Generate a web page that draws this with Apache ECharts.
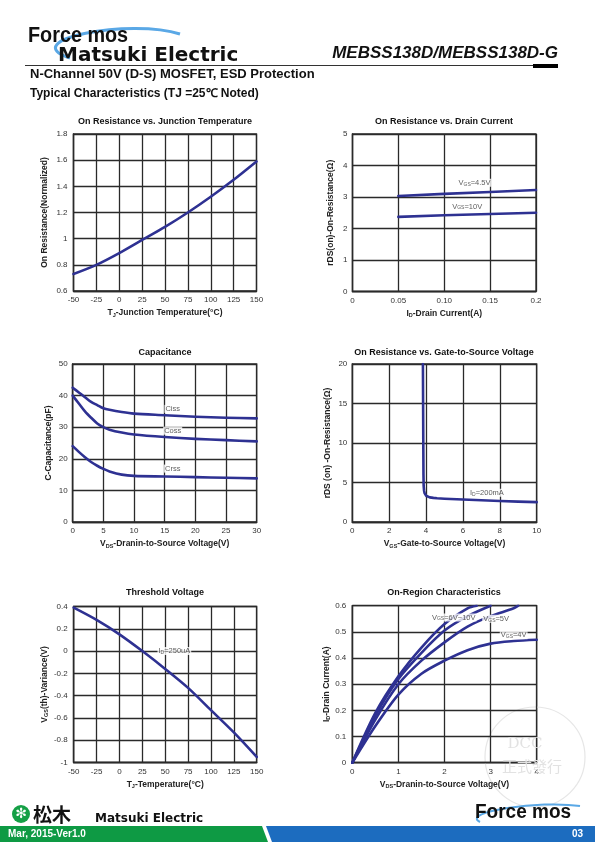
<!DOCTYPE html>
<html><head><meta charset="utf-8">
<script src="https://cdn.jsdelivr.net/npm/echarts@6/dist/echarts.min.js"></script>
<style>html,body{margin:0;padding:0;background:#fff}#c{width:595px;height:842px}</style>
</head><body><div id="c"></div>
<script>
// ---------- data ----------
// Chart 1: On Resistance vs Junction Temperature
const tjTemps = [-50, -25, 0, 25, 50, 75, 100, 125, 150];
const rOnNorm = [0.73, 0.80, 0.89, 0.99, 1.09, 1.20, 1.32, 1.45, 1.59];
// Chart 2: On Resistance vs Drain Current
const idCurrents = [0.05, 0.10, 0.15, 0.20];
const rds45 = [3.03, 3.10, 3.16, 3.22];
const rds10 = [2.37, 2.42, 2.46, 2.50];
const xTicks2 = ['0', '0.05', '0.10', '0.15', '0.2'];
// Chart 3: Capacitance
const vdsCap = [0, 1, 2, 3, 4, 5, 6, 8, 10, 15, 20, 25, 30];
const ciss = [42.5, 41, 39.5, 38, 37, 36, 35.5, 34.8, 34.3, 33.8, 33.3, 33, 32.8];
const coss = [40, 37.5, 35, 33, 31.2, 30, 29.2, 28.3, 27.7, 26.9, 26.3, 25.9, 25.5];
const crss = [24, 22.2, 20.5, 19, 17.8, 16.8, 16, 15, 14.6, 14.4, 14.2, 14, 13.8];
// Chart 4: On Resistance vs Gate-to-Source Voltage
const vgsR = [3.83, 3.84, 3.85, 3.86, 3.87, 3.89, 3.92, 3.96, 4.0, 4.1, 4.2, 4.4, 4.6, 5, 6, 7, 8, 9, 10];
const rdsVgs = [20, 15, 10, 6, 4.6, 4.0, 3.65, 3.45, 3.33, 3.2, 3.12, 3.05, 3.0, 2.95, 2.85, 2.75, 2.65, 2.58, 2.52];
// Chart 5: Threshold Voltage
const thTemps = [-50, -25, 0, 25, 50, 75, 100, 125, 150];
const vthVar = [0.39, 0.28, 0.15, 0.0, -0.16, -0.33, -0.53, -0.73, -0.95];
const yTicks5 = ['-1', '-0.8', '-0.6', '-0.4', '-0.2', '0', '0.2', '0.4'];
// Chart 6: On-Region Characteristics
const vdsOn10 = [0, 0.5, 1, 1.5, 2, 2.5, 2.7];
const id10 = [0, 0.19, 0.33, 0.44, 0.53, 0.59, 0.60];
const vdsOn6 = [0, 0.5, 1, 1.5, 2, 2.5, 3.0];
const id6 = [0, 0.18, 0.32, 0.42, 0.505, 0.56, 0.60];
const vdsOn5 = [0, 0.5, 1, 1.5, 2, 2.5, 3, 3.5, 3.6];
const id5 = [0, 0.165, 0.30, 0.39, 0.46, 0.52, 0.56, 0.59, 0.60];
const vdsOn4 = [0, 0.5, 1, 1.5, 2, 2.5, 3, 3.5, 4];
const id4 = [0, 0.14, 0.26, 0.34, 0.39, 0.43, 0.455, 0.465, 0.47];

// ---------- styles ----------
const FONT = 'Liberation Sans, Arial, sans-serif';
const NAVY = '#2e3192';
const GRIDC = '#2a2a2a';
const pair = (xs, ys) => xs.map((x, i) => [x, ys[i]]);
const subRich = {
  a: { fontFamily: FONT, fontSize: 8.5, fontWeight: 'bold', color: '#222' },
  s: { fontFamily: FONT, fontSize: 5.5, fontWeight: 'bold', color: '#222', padding: [4, 0, 0, 0] }
};
const labRich = {
  a: { fontFamily: FONT, fontSize: 7.5, color: '#333' },
  s: { fontFamily: FONT, fontSize: 5, color: '#333', padding: [3, 0, 0, 0] }
};

const grids = [
  { left: 73.5, top: 134, width: 183, height: 157 },
  { left: 352.5, top: 134, width: 183.5, height: 157.5 },
  { left: 72.7, top: 364, width: 184, height: 158 },
  { left: 352.3, top: 364, width: 184.4, height: 158 },
  { left: 73.7, top: 606.5, width: 183, height: 156 },
  { left: 352.3, top: 605.7, width: 184.4, height: 157 }
].map(g => Object.assign({ show: true, borderColor: GRIDC, borderWidth: 1.3, containLabel: false }, g));

function axis(idx, o) {
  return Object.assign({
    type: 'value', gridIndex: idx,
    axisLine: { show: true, onZero: false, lineStyle: { color: GRIDC, width: 1.3 } },
    axisTick: { show: false },
    splitLine: { show: true, lineStyle: { color: GRIDC, width: 1.3 } },
    axisLabel: { fontFamily: FONT, fontSize: 8, color: '#333', margin: 5 },
    nameLocation: 'middle',
    nameTextStyle: { fontFamily: FONT, fontSize: 8.5, fontWeight: 'bold', color: '#222', rich: subRich }
  }, o);
}

const xAxes = [
  axis(0, { min: -50, max: 150, interval: 25, name: 'T{s|J}-Junction Temperature(°C)', nameGap: 17 }),
  axis(1, { min: 0, max: 0.2, interval: 0.05, name: 'I{s|D}-Drain Current(A)', nameGap: 17,
    axisLabel: { fontFamily: FONT, fontSize: 8, color: '#333', margin: 5, formatter: v => xTicks2[Math.round(v / 0.05)] } }),
  axis(2, { min: 0, max: 30, interval: 5, name: 'V{s|DS}-Dranin-to-Source Voltage(V)', nameGap: 17 }),
  axis(3, { min: 0, max: 10, interval: 2, name: 'V{s|GS}-Gate-to-Source Voltage(V)', nameGap: 17 }),
  axis(4, { min: -50, max: 150, interval: 25, name: 'T{s|J}-Temperature(°C)', nameGap: 17 }),
  axis(5, { min: 0, max: 4, interval: 1, name: 'V{s|DS}-Dranin-to-Source Voltage(V)', nameGap: 17 })
];
const yAxes = [
  axis(0, { min: 0.6, max: 1.8, interval: 0.2, name: 'On Resistance(Normalized)', nameGap: 24,
    axisLabel: { fontFamily: FONT, fontSize: 8, color: '#333', margin: 6, formatter: v => String(+v.toFixed(1)) } }),
  axis(1, { min: 0, max: 5, interval: 1, name: 'rDS(on)-On-Resistance(Ω)', nameGap: 17 }),
  axis(2, { min: 0, max: 50, interval: 10, name: 'C-Capacitance(pF)', nameGap: 20 }),
  axis(3, { min: 0, max: 20, interval: 5, name: 'rDS (on) -On-Resistance(Ω)', nameGap: 20 }),
  axis(4, { min: -1, max: 0.4, interval: 0.2, name: 'V{s|GS}(th)-Variance(V)', nameGap: 24,
    axisLabel: { fontFamily: FONT, fontSize: 8, color: '#333', margin: 6, formatter: v => yTicks5[Math.round((v + 1) / 0.2)] } }),
  axis(5, { min: 0, max: 0.6, interval: 0.1, name: 'I{s|D}-Drain Current(A)', nameGap: 17,
    axisLabel: { fontFamily: FONT, fontSize: 8, color: '#333', margin: 6, formatter: v => String(+v.toFixed(1)) } })
];

function line(idx, data, extra) {
  return Object.assign({
    type: 'line', xAxisIndex: idx, yAxisIndex: idx, data: data, smooth: 0.3,
    showSymbol: false, symbol: 'none', lineStyle: { color: NAVY, width: 2.6, cap: 'round', join: 'round' }, z: 3, silent: true
  }, extra || {});
}
function labels(idx, items, rich) {
  return {
    type: 'scatter', xAxisIndex: idx, yAxisIndex: idx, symbolSize: 0, silent: true, z: 5,
    data: items.map(it => ({ value: it.v, label: { formatter: it.t } })),
    label: { show: true, position: 'inside', fontFamily: FONT, fontSize: 7.5, color: '#333',
      backgroundColor: '#fff', padding: [0, 1], rich: rich || labRich }
  };
}

const series = [
  line(0, pair(tjTemps, rOnNorm)),
  line(1, pair(idCurrents, rds45), { smooth: false }),
  line(1, pair(idCurrents, rds10), { smooth: false }),
  labels(1, [{ v: [0.133, 3.45], t: '{a|V}{s|GS}{a|=4.5V}' }, { v: [0.125, 2.7], t: '{a|V}{s|GS}{a|=10V}' }]),
  line(2, pair(vdsCap, ciss)),
  line(2, pair(vdsCap, coss)),
  line(2, pair(vdsCap, crss)),
  labels(2, [{ v: [16.3, 35.8], t: '{a|Ciss}' }, { v: [16.3, 28.9], t: '{a|Coss}' }, { v: [16.3, 16.9], t: '{a|Crss}' }]),
  line(3, pair(vgsR, rdsVgs), { smooth: false }),
  labels(3, [{ v: [7.3, 3.7], t: '{a|I}{s|D}{a|=200mA}' }]),
  line(4, pair(thTemps, vthVar)),
  labels(4, [{ v: [60, 0], t: '{a|I}{s|D}{a|=250uA}' }]),
  line(5, pair(vdsOn10, id10)),
  line(5, pair(vdsOn6, id6)),
  line(5, pair(vdsOn5, id5)),
  line(5, pair(vdsOn4, id4)),
  labels(5, [{ v: [2.2, 0.555], t: '{a|V}{s|GS}{a|=6V~10V}' }, { v: [3.12, 0.55], t: '{a|V}{s|GS}{a|=5V}' }, { v: [3.5, 0.487], t: '{a|V}{s|GS}{a|=4V}' }])
];

// ---------- page graphics ----------
function txt(x, y, text, font, color, align, valign, rich, z, extra) {
  return Object.assign({ type: 'text', z: z || 10, silent: true, style: { x: x, y: y, text: text, font: font, fill: color || '#111',
    align: align || 'left', textAlign: align || 'left', verticalAlign: valign || 'middle', textVerticalAlign: valign || 'middle', rich: rich } }, extra || {});
}
const chartTitles = [
  [165, 122, 'On Resistance vs. Junction Temperature'],
  [444, 122, 'On Resistance vs. Drain Current'],
  [165, 353, 'Capacitance'],
  [444, 353, 'On Resistance vs. Gate-to-Source Voltage'],
  [165, 593, 'Threshold Voltage'],
  [444, 593, 'On-Region Characteristics']
];
const HEAVY = '"Liberation Sans", Arial, sans-serif';
const logoRich = {
  k: { font: 'bold 22px ' + HEAVY, color: '#1a1a1a' },
  o: { font: 'bold 22px ' + HEAVY, color: '#2a7fd4' },
  m: { font: 'bold 20px "DejaVu Sans", sans-serif', color: '#1a1a1a' },
  g: { font: 'bold 20px "DejaVu Sans", sans-serif', color: '#1aa34a' }
};
const footRich = {
  m: { font: 'bold 12px "DejaVu Sans", sans-serif', color: '#1a1a1a' },
  g: { font: 'bold 12px "DejaVu Sans", sans-serif', color: '#1aa34a' },
  k: { font: 'bold 20px ' + HEAVY, color: '#1a1a1a' },
  o: { font: 'bold 20px ' + HEAVY, color: '#2a7fd4' }
};
const graphic = [
  // header
  { type: 'bezierCurve', silent: true, z: 1, shape: { x1: 70, y1: 58, cpx1: 15, cpy1: 40, cpx2: 130, cpy2: 18, x2: 180, y2: 34 },
    style: { stroke: '#5aa8e6', lineWidth: 3, fill: null } },
  txt(28, 36, '{k|F}{o|o}{k|rce mos}', null, '#111', 'left', 'middle', logoRich, 10, { scaleX: 0.9, originX: 28, originY: 36 }),
  txt(58, 56, '{m|Mat}{g|s}{m|uki Electric}', null, '#111', 'left', 'middle', logoRich),
  txt(558, 62, 'MEBSS138D/MEBSS138D-G', 'italic bold 17px "Liberation Sans", Arial, sans-serif', '#111', 'right', 'bottom'),
  { type: 'line', silent: true, shape: { x1: 25, y1: 65.5, x2: 535, y2: 65.5 }, style: { stroke: '#333', lineWidth: 1 } },
  { type: 'rect', silent: true, shape: { x: 533, y: 64, width: 25, height: 4 }, style: { fill: '#000' } },
  txt(30, 74, 'N-Channel 50V (D-S) MOSFET, ESD Protection', 'bold 13px "Liberation Sans", Arial, sans-serif', '#111'),
  txt(30, 94, 'Typical Characteristics (TJ =25℃ Noted)', 'bold 12px "Liberation Sans", Arial, sans-serif', '#111'),
  // watermark
  { type: 'circle', silent: true, z: 0, shape: { cx: 535, cy: 757, r: 50 }, style: { stroke: '#e6e6e6', lineWidth: 1.2, fill: null } },
  txt(525, 744, 'DCC', '15px "DejaVu Serif", serif', '#e2e2e2', 'center', 'middle', null, 0),
  txt(532, 766, '正式發行', '15px "Noto Sans CJK TC", sans-serif', '#e2e2e2', 'center', 'middle', null, 0),
  // footer
  { type: 'polygon', silent: true, shape: { points: [[0, 826], [262, 826], [268, 842], [0, 842]] }, style: { fill: '#0e9a44' } },
  { type: 'polygon', silent: true, shape: { points: [[266, 826], [595, 826], [595, 842], [272, 842]] }, style: { fill: '#1c6cbf' } },
  txt(8, 834, 'Mar, 2015-Ver1.0', 'bold 10px "Liberation Sans Narrow", "Liberation Sans", Arial, sans-serif', '#fff'),
  txt(583, 834, '03', 'bold 10px "Liberation Sans", Arial, sans-serif', '#fff', 'right'),
  { type: 'circle', silent: true, shape: { cx: 21, cy: 814, r: 9 }, style: { fill: '#15a046' } },
  txt(21, 814, '✻', 'bold 14px "DejaVu Sans", sans-serif', '#fff', 'center'),
  txt(33, 815, '松木', 'bold 19px "Noto Sans CJK JP", sans-serif', '#111'),
  txt(95, 819, '{m|Mat}{g|s}{m|uki Electric}', null, '#111', 'left', 'middle', footRich),
  { type: 'bezierCurve', silent: true, z: 1, shape: { x1: 480, y1: 822, cpx1: 460, cpy1: 812, cpx2: 540, cpy2: 800, x2: 580, y2: 806 },
    style: { stroke: '#5aa8e6', lineWidth: 2, fill: null } },
  txt(475, 812, '{k|F}{o|o}{k|rce mos}', null, '#111', 'left', 'middle', footRich, 10, { scaleX: 0.95, originX: 475, originY: 812 })
].concat(chartTitles.map(t => txt(t[0], t[1], t[2], 'bold 9px "Liberation Sans", Arial, sans-serif', '#111', 'center')));

const chart = echarts.init(document.getElementById('c'), null, { renderer: 'canvas' });
chart.setOption({
  animation: false,
  backgroundColor: '#fff',
  grid: grids,
  xAxis: xAxes,
  yAxis: yAxes,
  series: series,
  graphic: graphic
});
</script>
</body></html>
